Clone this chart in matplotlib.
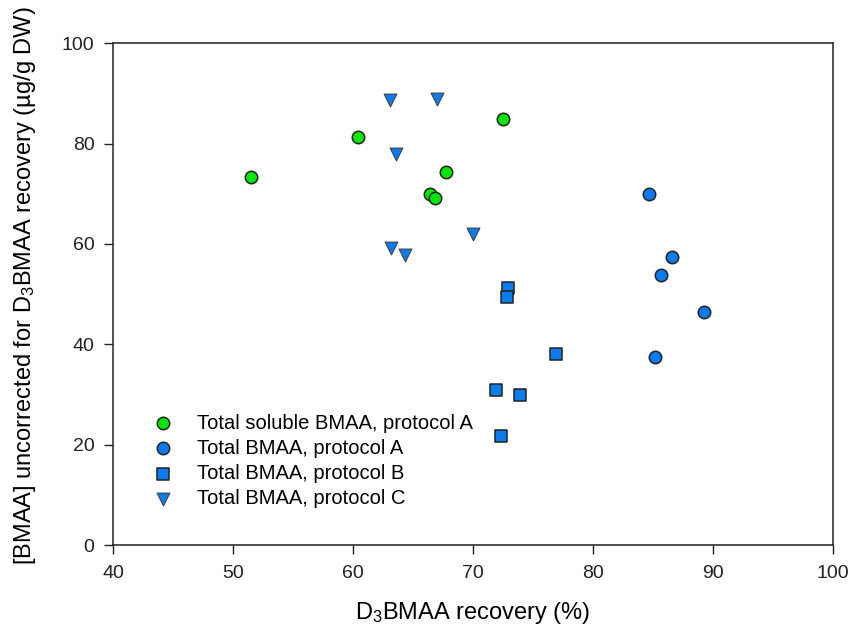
import matplotlib
matplotlib.use('Agg')
import matplotlib.pyplot as plt

plt.rcParams['font.family'] = ['Liberation Sans', 'DejaVu Sans']
plt.rcParams['mathtext.fontset'] = 'custom'
plt.rcParams['mathtext.rm'] = 'Liberation Sans'
plt.rcParams['mathtext.it'] = 'Liberation Sans:italic'

# Total soluble BMAA, protocol A
soluble_a_x = [51.5, 60.45, 72.5, 67.75, 66.4, 66.8]
soluble_a_y = [73.4, 81.4, 84.9, 74.3, 70.0, 69.2]

# Total BMAA, protocol A
total_a_x = [84.7, 86.6, 85.7, 89.3, 85.2]
total_a_y = [69.9, 57.5, 53.8, 46.4, 37.5]

# Total BMAA, protocol B
total_b_x = [72.9, 72.8, 76.9, 71.9, 73.9, 72.3]
total_b_y = [51.2, 49.5, 38.0, 30.9, 29.9, 21.8]

# Total BMAA, protocol C
total_c_x = [63.1, 67.0, 63.6, 70.0, 63.2, 64.3]
total_c_y = [88.6, 88.9, 77.9, 61.9, 59.1, 57.8]

labels = ['Total soluble BMAA, protocol A', 'Total BMAA, protocol A',
          'Total BMAA, protocol B', 'Total BMAA, protocol C']

green = '#00e600'
blue = '#0a7cf0'

fig = plt.figure(figsize=(8.5, 6.3), dpi=100)
ax = fig.add_axes([0.1333, 0.1349, 0.8463, 0.7964])

ax.scatter(soluble_a_x, soluble_a_y, s=80, marker='o', c=green, edgecolors='#222222', linewidths=1.1, label=labels[0], zorder=3)
ax.scatter(total_a_x, total_a_y, s=80, marker='o', c=blue, edgecolors='#222222', linewidths=1.1, label=labels[1], zorder=3)
ax.scatter(total_b_x, total_b_y, s=70, marker='s', c=blue, edgecolors='#222222', linewidths=1.1, label=labels[2], zorder=3)
ax.scatter(total_c_x, total_c_y, s=85, marker='v', c=blue, edgecolors='#444444', linewidths=0.8, label=labels[3], zorder=3)

ax.set_xlim(40, 100)
ax.set_ylim(0, 100)
ax.set_xticks(range(40, 101, 10))
ax.set_yticks(range(0, 101, 20))
ax.tick_params(direction='out', length=6.5, width=1, labelsize=14, colors='#222222')
ax.tick_params(axis='x', pad=8)
ax.tick_params(axis='y', pad=7)
for sp in ax.spines.values():
    sp.set_linewidth(1.1)
    sp.set_color('#222222')

ax.set_xlabel('D$_3$BMAA recovery (%)', fontsize=17, labelpad=13)
ax.set_ylabel('[BMAA] uncorrected for D$_3$BMAA recovery (µg/g DW)', fontsize=17)
ax.yaxis.set_label_coords(-0.105, 0.516)

ax.legend(loc='lower left', bbox_to_anchor=(0.03, 0.058), frameon=False, fontsize=14.5,
          handletextpad=0.7, labelspacing=0.3, borderaxespad=0)

fig.savefig('out.png', dpi=100)
